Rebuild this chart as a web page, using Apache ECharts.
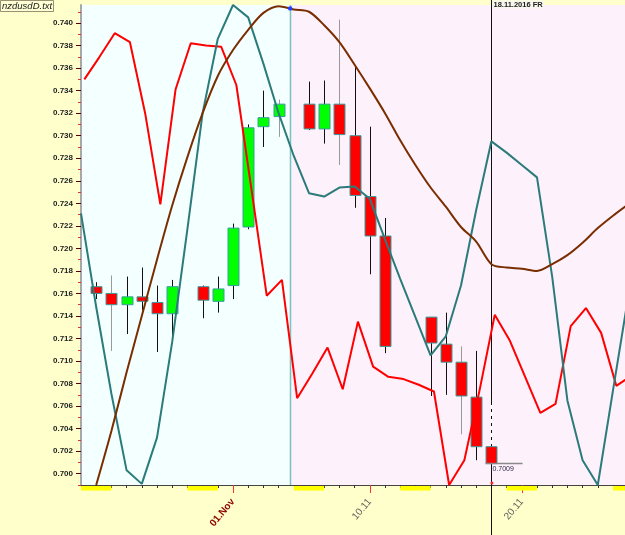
<!DOCTYPE html>
<html><head><meta charset="utf-8">
<script src="https://cdn.jsdelivr.net/npm/echarts@6/dist/echarts.min.js"></script>
<style>html,body{margin:0;padding:0;background:#ffffcc;}#c{width:625px;height:535px;}</style>
</head><body><div id="c"></div>
<script>
// ---------- DATA ----------
const baseDate = '2016-10-22';           // day index 0
const candleDates = ['2016-10-23','2016-10-24','2016-10-25','2016-10-26','2016-10-27','2016-10-28',
  '2016-10-30','2016-10-31','2016-11-01','2016-11-02','2016-11-03','2016-11-04',
  '2016-11-06','2016-11-07','2016-11-08','2016-11-09','2016-11-10','2016-11-11',
  '2016-11-14','2016-11-15','2016-11-16','2016-11-17','2016-11-18'];
const candleOpen  = [0.7166,0.7160,0.7150,0.7157,0.7152,0.7142, 0.7166,0.7153,0.7167,0.7219,0.7308,0.7317,
  0.7328,0.7306,0.7328,0.7300,0.7246,0.7211, 0.7139,0.7115,0.7099,0.7068,0.7024];
const candleClose = [0.7160,0.7150,0.7157,0.7153,0.7142,0.7166, 0.7154,0.7164,0.7218,0.7307,0.7316,0.7328,
  0.7306,0.7328,0.7301,0.7247,0.7211,0.7113, 0.7116,0.7099,0.7069,0.7024,0.7009];
const candleLow   = [0.7155,0.7109,0.7124,0.7145,0.7108,0.7120, 0.7138,0.7143,0.7155,0.7217,0.7290,0.7299,
  0.7305,0.7293,0.7274,0.7236,0.7177,0.7107, 0.7069,0.7070,0.7035,0.7012,0.7009];
const candleHigh  = [0.7170,0.7176,0.7175,0.7183,0.7167,0.7172, 0.7167,0.7175,0.7222,0.7310,0.7340,0.7332,
  0.7348,0.7349,0.7403,0.7362,0.7308,0.7227, 0.7139,0.7143,0.7113,0.7109,0.7061];

// indicator lines, one value per calendar day from day 0 (22.10.2016)
const redLine = [0.7350,0.7370,0.7391,0.7383,0.7320,0.7239,0.7341,0.7382,0.7380,0.7379,0.7345,0.7252,
  0.7158,0.7172,0.7067,0.7089,0.7112,0.7075,0.7135,0.7095,0.7086,0.7084,0.7079,0.7073,0.6990,0.7012,
  0.7074,0.7141,0.7118,0.7086,0.7054,0.7062,0.7131,0.7147,0.7125,0.7078,0.7087];
const tealLine = [0.7231,0.7148,0.7071,0.7003,0.6991,0.7032,0.7117,0.7217,0.7320,0.7386,0.7416,0.7405,
  0.7364,0.7320,0.7282,0.7249,0.7246,0.7254,0.7255,0.7244,0.7208,0.7173,0.7139,0.7105,0.7122,0.7167,
  0.7234,0.7295,0.7285,0.7274,0.7263,0.7175,0.7065,0.7012,0.6990,0.7074,0.7157];
const brownLine = [null,0.6990,0.7038,0.7090,0.7140,0.7190,0.7238,0.7281,0.7320,0.7353,0.7376,0.7394,
  0.7409,0.7415,0.7412,0.7410,0.7398,0.7383,0.7363,0.7342,0.7320,0.7296,0.7274,0.7254,0.7237,0.7219,
  0.7206,0.7186,0.7183,0.7182,0.7180,0.7186,0.7194,0.7205,0.7218,0.7229,0.7239];

const weekendStarts = ['2016-10-22','2016-10-29','2016-11-05','2016-11-12','2016-11-19','2016-11-26'];
const xLabelDates = ['2016-11-01','2016-11-10','2016-11-20'];
const xLabelTexts = ['01.Nov','10.11','20.11'];
const yTickLabels = [0.700,0.702,0.704,0.706,0.708,0.710,0.712,0.714,0.716,0.718,0.720,
  0.722,0.724,0.726,0.728,0.730,0.732,0.734,0.736,0.738,0.740];
const yMinorTicks = [0.699,0.701,0.703,0.705,0.707,0.709,0.711,0.713,0.715,0.717,0.719,0.721,
  0.723,0.725,0.727,0.729,0.731,0.733,0.735,0.737,0.739,0.741];
const cursorDate = '2016-11-18';
const cursorLabel = '18.11.2016 FR';
const splitDay = 13.73;          // boundary of the shaded zones
const splitDotValue = 0.7413;
const grayWickDates = ['2016-10-24','2016-11-04','2016-11-08','2016-11-16'];

// ---------- LAYOUT / STYLE ----------
const yMin = 0.699, yMax = 0.7416, xMax = 35.79;
const redShift = 0.22;
function dayIdx(s){ return Math.round((Date.parse(s) - Date.parse(baseDate)) / 86400000); }

const candleData = candleDates.map((d,i)=>[dayIdx(d), candleOpen[i], candleClose[i], candleLow[i], candleHigh[i]]);
const grayIdx = grayWickDates.map(dayIdx);
const labelIdx = xLabelDates.map(dayIdx);
const dayTicks = []; for (let i = 0; i <= 35; i++) dayTicks.push(i);
const lastIdx = candleData.length - 1;
const FONT = '"Liberation Sans", Arial, sans-serif';

function renderCandle(params, api){
  const x = api.value(0), o = api.value(1), c = api.value(2), l = api.value(3), h = api.value(4);
  const pO = api.coord([x,o]), pC = api.coord([x,c]), pL = api.coord([x,l]), pH = api.coord([x,h]);
  const bw = api.size([0.7,0])[0];
  const xc = Math.round(pO[0]) + 0.5;
  const top = Math.min(pO[1],pC[1]), bot = Math.max(pO[1],pC[1]);
  const isLast = params.dataIndex === lastIdx;
  const wickColor = isLast ? '#ffffff' : (grayIdx.indexOf(x) >= 0 ? '#999999' : '#111111');
  const children = [
    {type:'line', shape:{x1:xc,y1:pH[1],x2:xc,y2:pL[1]},
     style:{stroke:wickColor,lineWidth:1,lineDash: isLast ? [4,3] : null}},
    {type:'rect', shape:{x:Math.round(xc-bw/2),y:top,width:Math.round(bw),height:Math.max(bot-top,1)},
     style:{fill: c >= o ? '#00ff00' : '#ff0000', stroke:'#3a9d9d', lineWidth:1}}
  ];
  if (isLast){
    const pEnd = api.coord([x+2.05, c]);
    children.push({type:'line', shape:{x1:xc-6,y1:pC[1],x2:pEnd[0],y2:pC[1]}, style:{stroke:'#8a8a8a',lineWidth:1.5}});
    children.push({type:'text', style:{text:c.toFixed(4), x:xc+1, y:pC[1]+2, font:'7px '+FONT, fill:'#2a2a4a', textVerticalAlign:'top'}});
  }
  return {type:'group', children};
}

const chart = echarts.init(document.getElementById('c'), null, {renderer:'canvas'});
chart.setOption({
  animation:false,
  backgroundColor:'#ffffcc',
  title:{text:'nzdusdD.txt', left:0, top:0, padding:[1,2,1,2], backgroundColor:'#ffffd4',
    borderColor:'#9a8f70', borderWidth:1,
    textStyle:{fontSize:9.5, lineHeight:10, fontStyle:'italic', fontWeight:'normal', color:'#222', fontFamily:FONT}},
  grid:{left:81, right:0, top:5, bottom:50},
  xAxis:[{
    type:'value', min:0, max:xMax, position:'bottom',
    axisLine:{show:true, onZero:false, lineStyle:{color:'#444', width:1}},
    axisTick:{show:true, customValues:dayTicks, length:3, lineStyle:{color:'#333'}},
    axisLabel:{customValues:labelIdx, rotate:50, margin:15, fontFamily:FONT,
      formatter:(v)=>{ const k = labelIdx.indexOf(Math.round(v)); return k === 0 ? '{a|'+xLabelTexts[k]+'}' : '{b|'+xLabelTexts[k]+'}'; },
      rich:{a:{color:'#8b0000', fontWeight:'bold', fontSize:10, fontFamily:FONT},
            b:{color:'#5a5a5a', fontSize:10, fontFamily:FONT}}},
    splitLine:{show:false}
  },{
    type:'value', min:0, max:xMax, position:'bottom',
    axisLine:{show:false, onZero:false},
    axisTick:{show:true, customValues:labelIdx, length:8, lineStyle:{color:'#ff3030'}},
    axisLabel:{show:false}, splitLine:{show:false}
  }],
  yAxis:[{
    type:'value', min:yMin, max:yMax, position:'left',
    axisLine:{show:true, onZero:false, lineStyle:{color:'#a8a8a8', width:2}},
    axisTick:{show:true, customValues:yTickLabels, length:5, lineStyle:{color:'#5a0000'}},
    axisLabel:{customValues:yTickLabels, formatter:(v)=>v.toFixed(3), fontSize:8, fontWeight:'bold',
      color:'#222', margin:8, fontFamily:FONT},
    splitLine:{show:false}
  },{
    type:'value', min:yMin, max:yMax, position:'left',
    axisLine:{show:false, onZero:false},
    axisTick:{show:true, customValues:yMinorTicks, length:3, lineStyle:{color:'#e03030'}},
    axisLabel:{show:false}, splitLine:{show:false}
  }],
  series:[
    { // zone backgrounds
      type:'custom', z:0, silent:true, clip:true,
      data:[[0, splitDay, 0],[splitDay, xMax, 1]],
      renderItem:(params, api)=>{
        const a = api.coord([api.value(0), yMax]), b = api.coord([api.value(1), yMin]);
        return {type:'rect', shape:{x:a[0], y:a[1], width:b[0]-a[0], height:b[1]-a[1]},
          style:{fill: api.value(2) === 0 ? '#f4ffff' : '#fdf1fb'}};
      }
    },
    { // weekend marks under the axis
      type:'custom', z:1, silent:true, clip:false,
      data: weekendStarts.map(d=>[dayIdx(d)]),
      renderItem:(params, api)=>{
        const a = api.coord([api.value(0), yMin]), b = api.coord([api.value(0)+2, yMin]);
        return {type:'rect', shape:{x:a[0], y:a[1]+1, width:b[0]-a[0], height:4.5}, style:{fill:'#ffff00'}};
      }
    },
    { // zone split line
      type:'custom', z:1, silent:true, clip:false,
      data:[[splitDay]],
      renderItem:(params, api)=>{
        const a = api.coord([api.value(0), yMax]), b = api.coord([api.value(0), yMin]);
        const x = Math.round(a[0]) + 0.5;
        return {type:'line', shape:{x1:x,y1:a[1],x2:x,y2:b[1]}, style:{stroke:'#78c4c4', lineWidth:1.5}};
      }
    },
    { // cursor line
      type:'custom', z:1, silent:true, clip:false,
      data:[[dayIdx(cursorDate)]],
      renderItem:(params, api)=>{
        const a = api.coord([api.value(0), yMin]);
        const x = Math.round(a[0]) + 0.5;
        return {type:'group', children:[
          {type:'line', shape:{x1:x,y1:0,x2:x,y2:api.getHeight()}, style:{stroke:'#111', lineWidth:1}},
          {type:'text', style:{text:cursorLabel, x:x+1, y:0.5, font:'bold 7.5px '+FONT, fill:'#222',
            backgroundColor:'#f7f7ee', padding:[0,1,0,1], textVerticalAlign:'top'}}
        ]};
      }
    },
    {
      type:'custom', name:'nzdusd', z:2, clip:true,
      data:candleData, renderItem:renderCandle
    },
    {type:'line', name:'red', z:3, showSymbol:false, clip:true,
      data: redLine.map((v,i)=>[i+redShift, v]), lineStyle:{color:'#ff0000', width:2}},
    {type:'line', name:'teal', z:3, showSymbol:false, clip:true,
      data: tealLine.map((v,i)=>[i, v]), lineStyle:{color:'#2b7b7b', width:2}},
    {type:'line', name:'brown', z:3, showSymbol:false, clip:true, smooth:0.3,
      data: brownLine.map((v,i)=>[i, v]).filter(p=>p[1] !== null), lineStyle:{color:'#7a2e00', width:2}},
    { // dots
      type:'custom', z:5, silent:true, clip:false,
      data:[[splitDay, splitDotValue, 0],[dayIdx(cursorDate), yMin, 1]],
      renderItem:(params, api)=>{
        const p = api.coord([api.value(0), api.value(1)]);
        const red = api.value(2) === 1;
        return {type:'circle', shape:{cx:p[0]+0.5, cy: red ? p[1]-2 : p[1], r: red ? 1.5 : 2.2},
          style:{fill: red ? '#ff2020' : '#2040ff'}};
      }
    }
  ]
});
</script></body></html>
